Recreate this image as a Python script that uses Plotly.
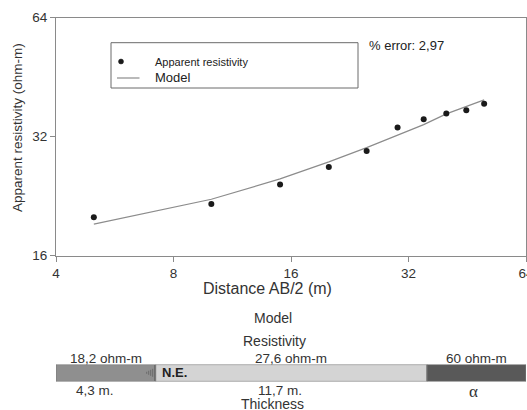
import plotly.graph_objects as go
import numpy as np

# ---- data ----
ab2 = [5, 10, 15, 20, 25, 30, 35, 40, 45, 50]
rho_app = [20.0, 21.6, 24.2, 26.8, 29.4, 33.7, 35.4, 36.6, 37.3, 38.7]
model_ab2 = [5, 10, 15, 20, 25, 30, 35, 40, 45, 50]
model_rho = [19.2, 22.2, 25.0, 27.6, 30.0, 32.3, 34.3, 36.5, 38.1, 39.6]
x_ticks = [4, 8, 16, 32, 64]
y_ticks = [16, 32, 64]
layer_res_labels = ["18,2 ohm-m", "27,6 ohm-m", "60 ohm-m"]
layer_thick = [4.3, 11.7]
layer_thick_labels = ["4,3 m.", "11,7 m.", "α"]
error_text = "% error: 2,97"

# ---- layout helpers ----
W, H = 527, 410
L, R = 56, 1
PW = W - L - R
FONT = "Liberation Sans, Arial, sans-serif"
TXT = "#333333"
AX = "#8a8a8a"


def px(p):
    return (p - L) / PW


def py(p):
    return (H - p) / H


fig = go.Figure()

# main curve
fig.add_trace(go.Scatter(x=model_ab2, y=model_rho, mode="lines",
                         line=dict(color="#8c8c8c", width=1.2),
                         xaxis="x", yaxis="y", showlegend=False, hoverinfo="skip"))
fig.add_trace(go.Scatter(x=ab2, y=rho_app, mode="markers",
                         marker=dict(color="#1a1a1a", size=6),
                         xaxis="x", yaxis="y", showlegend=False))

# model bar
cum = np.cumsum([0] + layer_thick)
bar_total = cum[-1] * 1.267
widths = list(layer_thick) + [bar_total - cum[-1]]
bases = list(cum)
centers = [b + w / 2 for b, w in zip(bases, widths)]
fig.add_trace(go.Bar(y=[0, 0, 0], x=widths, base=bases, orientation="h",
                     width=1,
                     marker=dict(color=["#8f8f8f", "#d4d4d4", "#595959"],
                                 line=dict(color="#7a7a7a", width=1)),
                     xaxis="x2", yaxis="y2", showlegend=False, hoverinfo="skip"))

xr = [np.log10(4), np.log10(64) + 1e-5]
yr = [np.log10(16) - 1e-5, np.log10(64) + 1e-5]
main_ydom = [py(255.5), py(17.5)]
fig.update_layout(
    width=W, height=H,
    margin=dict(l=L, r=R, t=0, b=0, autoexpand=False),
    paper_bgcolor="white", plot_bgcolor="white",
    font=dict(family=FONT, color=TXT, size=13.5),
    xaxis=dict(type="log", range=xr, domain=[0, 1],
               anchor="y", tickvals=x_ticks, ticktext=[str(v) for v in x_ticks],
               ticks="outside", ticklen=5, tickcolor=AX, linecolor=AX,
               showline=True, mirror=True, showgrid=False, zeroline=False,
               ticklabeloverflow="allow",
               tickfont=dict(size=13.5, color=TXT), automargin=False),
    yaxis=dict(type="log", range=yr, domain=main_ydom,
               anchor="x", tickvals=y_ticks, ticktext=[str(v) for v in y_ticks],
               ticks="outside", ticklen=5, tickcolor=AX, linecolor=AX,
               showline=True, mirror=True, showgrid=False, zeroline=False,
               ticklabeloverflow="allow",
               tickfont=dict(size=13.5, color=TXT), automargin=False),
    xaxis3=dict(type="log", range=xr, overlaying="x",
                anchor="y", tickvals=x_ticks, ticks="inside", ticklen=4,
                tickcolor=AX, showticklabels=False, showline=False,
                showgrid=False, zeroline=False),
    yaxis3=dict(type="log", range=yr, overlaying="y",
                anchor="x", tickvals=y_ticks, ticks="inside", ticklen=4,
                tickcolor=AX, showticklabels=False, showline=False,
                showgrid=False, zeroline=False),
    xaxis2=dict(range=[0, bar_total], domain=[0, 1], anchor="y2", visible=False),
    yaxis2=dict(range=[-0.5, 0.5], domain=[py(381.4), py(364.6)], anchor="x2",
                visible=False),
)

ann = []
# axis titles
ann.append(dict(text="Apparent resistivity (ohm-m)", x=px(17), y=py(128),
                xref="paper", yref="paper", textangle=-90, showarrow=False,
                font=dict(size=13.5, color=TXT), xanchor="center", yanchor="middle"))
ann.append(dict(text="Distance AB/2 (m)", x=px(267), y=py(288), xref="paper",
                yref="paper", showarrow=False, font=dict(size=16, color=TXT),
                xanchor="center", yanchor="middle"))
# error text
ann.append(dict(text=error_text, x=px(367), y=py(46), xref="paper", yref="paper",
                showarrow=False, font=dict(size=13, color="#222"),
                xanchor="left", yanchor="middle"))
# legend (manual)
ann.append(dict(text="Apparent resistivity", x=px(153), y=py(61.5), xref="paper",
                yref="paper", showarrow=False,
                font=dict(size=11, color="#222"),
                xanchor="left", yanchor="middle"))
ann.append(dict(text="Model", x=px(153), y=py(78), xref="paper", yref="paper",
                showarrow=False, font=dict(size=13, color="#222"),
                xanchor="left", yanchor="middle"))

# bottom model section
ann.append(dict(text="Model", x=px(273), y=py(318), xref="paper", yref="paper",
                showarrow=False, font=dict(size=14, color=TXT),
                xanchor="center", yanchor="middle"))
ann.append(dict(text="Resistivity", x=px(274), y=py(340.5), xref="paper",
                yref="paper", showarrow=False, font=dict(size=14, color=TXT),
                xanchor="center", yanchor="middle"))
for c, t in zip(centers, layer_res_labels):
    ann.append(dict(text=t, x=c, y=py(358.2), xref="x2", yref="paper",
                    showarrow=False, font=dict(size=13.5, color=TXT),
                    xanchor="center", yanchor="middle"))
for i, (c, t) in enumerate(zip(centers, layer_thick_labels)):
    if t == "α":
        ann.append(dict(text=t, x=c, y=py(391), xref="x2", yref="paper",
                        showarrow=False, xshift=-3,
                        font=dict(size=17, color=TXT,
                                  family="Liberation Serif, Times New Roman, serif"),
                        xanchor="center", yanchor="middle"))
    else:
        ann.append(dict(text=t, x=c, y=py(390), xref="x2", yref="paper",
                        showarrow=False, xshift=-11,
                        font=dict(size=13.5, color=TXT),
                        xanchor="center", yanchor="middle"))
ann.append(dict(text="Thickness", x=px(272), y=py(404), xref="paper",
                yref="paper", showarrow=False, font=dict(size=14, color=TXT),
                xanchor="center", yanchor="middle"))
ann.append(dict(text="<b>N.E.</b>", x=cum[1], y=py(372.5), xref="x2",
                yref="paper", xshift=4, showarrow=False,
                font=dict(size=13, color="#222"), xanchor="left", yanchor="middle"))
fig.update_layout(annotations=ann)

shapes = []
# legend box
shapes.append(dict(type="rect", xref="paper", yref="paper",
                   x0=px(111), x1=px(358), y0=py(88), y1=py(42.7),
                   line=dict(color="#6a6a6a", width=1), fillcolor="rgba(0,0,0,0)"))
shapes.append(dict(type="circle", xref="paper", yref="paper",
                   x0=px(118.5), x1=px(123.5), y0=py(64), y1=py(59),
                   line=dict(color="#1a1a1a", width=0.5), fillcolor="#1a1a1a"))
shapes.append(dict(type="line", xref="paper", yref="paper",
                   x0=px(117), x1=px(139.5), y0=py(78), y1=py(78),
                   line=dict(color="#8c8c8c", width=1.2)))
# hatch marks at first layer boundary
for off, hh in [(-9, 2), (-7, 4), (-5, 6), (-3, 8)]:
    shapes.append(dict(type="line", xref="x2", yref="paper", xsizemode="pixel",
                       xanchor=cum[1], x0=off, x1=off,
                       y0=py(372.8 + hh / 2), y1=py(372.8 - hh / 2),
                       line=dict(color="#6a6a6a", width=1)))
shapes.append(dict(type="line", xref="x2", yref="paper", xsizemode="pixel",
                   xanchor=cum[1], x0=-1, x1=-1, y0=py(381), y1=py(365),
                   line=dict(color="#6a6a6a", width=1.2)))
fig.update_layout(shapes=shapes)

fig.write_html("out.html")
